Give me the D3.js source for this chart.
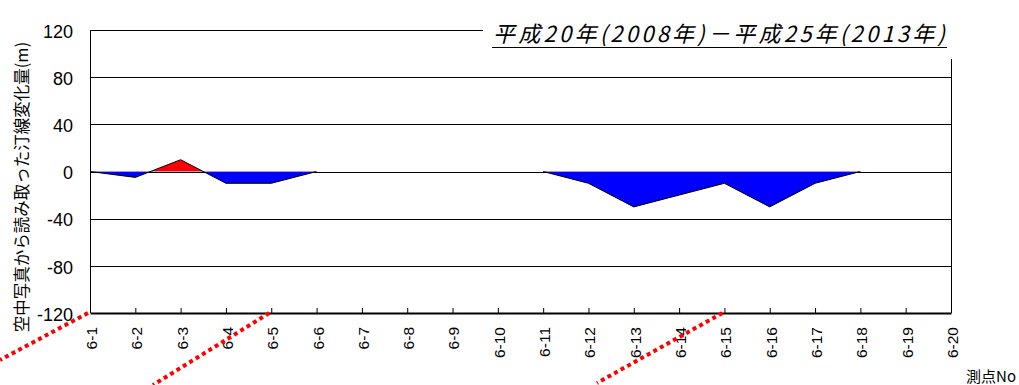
<!DOCTYPE html>
<html><head><meta charset="utf-8">
<script src="https://cdn.jsdelivr.net/npm/d3@7"></script>
<style>html,body{margin:0;padding:0;background:#fff;}svg{display:block;}</style>
</head><body>
<svg id="chart" width="1019" height="385"></svg>
<script>
const categories = ["6-1","6-2","6-3","6-4","6-5","6-6","6-7","6-8","6-9","6-10","6-11","6-12","6-13","6-14","6-15","6-16","6-17","6-18","6-19","6-20"];
const changeValues = [0,-5,10,-10,-10,0,null,null,null,null,0,-10,-30,-20,-10,-30,-10,0,null,null];
const yTicks = [120,80,40,0,-40,-80,-120];
const gridTicks = [80,40,0,-40,-80];
const titleText = "平成20年(2008年)－平成25年(2013年)";
const yLabel = "空中写真から読み取った汀線変化量(m)";
const xLabel = "測点No";

const svg = d3.select("#chart");
const L = 90, R = 951, T = 30, B = 313;
const x = d3.scalePoint().domain(categories).range([L, R]);
const y = d3.scaleLinear().domain([-120, 120]).range([B, T]);

const data = categories.map((c, i) => ({c, v: changeValues[i]}));
const defined = d => d.v !== null;

// gridlines
svg.append("g").selectAll("line").data(gridTicks).join("line")
  .attr("x1", L).attr("x2", R)
  .attr("y1", d => Math.round(y(d)) + 0.5).attr("y2", d => Math.round(y(d)) + 0.5)
  .attr("stroke", "#000").attr("stroke-width", 1);

// clip paths
const defs = svg.append("defs");
defs.append("clipPath").attr("id", "above").append("rect")
  .attr("x", L).attr("y", T).attr("width", R - L).attr("height", y(0) - T);
defs.append("clipPath").attr("id", "below").append("rect")
  .attr("x", L).attr("y", y(0)).attr("width", R - L).attr("height", B - y(0));

const area = d3.area().defined(defined).x(d => x(d.c)).y0(y(0)).y1(d => y(d.v));
svg.append("path").datum(data).attr("d", area).attr("fill", "#ff0000").attr("clip-path", "url(#above)");
svg.append("path").datum(data).attr("d", area).attr("fill", "#0000ff").attr("clip-path", "url(#below)");

const line = d3.line().defined(defined).x(d => x(d.c)).y(d => y(d.v));
svg.append("path").datum(data).attr("d", line).attr("fill", "none").attr("stroke", "#000").attr("stroke-width", 1);

// borders
svg.append("line").attr("x1", L + 0.5).attr("x2", L + 0.5).attr("y1", T).attr("y2", B).attr("stroke", "#000").attr("stroke-width", 1);
svg.append("line").attr("x1", L).attr("x2", 483).attr("y1", T + 0.5).attr("y2", T + 0.5).attr("stroke", "#000").attr("stroke-width", 1);
svg.append("line").attr("x1", R + 0.5).attr("x2", R + 0.5).attr("y1", 59).attr("y2", B).attr("stroke", "#000").attr("stroke-width", 1);

// x axis
const xAxis = d3.axisBottom(x).tickSize(-5).tickSizeOuter(0).tickFormat("");
const gx = svg.append("g").attr("transform", `translate(0,${B})`).call(xAxis);
gx.select(".domain").attr("stroke", "#000").attr("stroke-width", 2);
gx.selectAll(".tick line").attr("stroke", "#000").attr("stroke-width", 1);

svg.append("g").selectAll("text").data(categories).join("text")
  .attr("transform", d => `translate(${x(d) + 1.5},327) rotate(-90)`)
  .attr("text-anchor", "end").attr("dy", "0.35em")
  .attr("font-family", "'Liberation Sans', Arial, sans-serif").attr("font-size", 15.5)
  .attr("fill", "#000").text(d => d);

// y tick labels
svg.append("g").selectAll("text").data(yTicks).join("text")
  .attr("x", 73).attr("y", d => y(d) + 1.5).attr("dy", "0.35em")
  .attr("text-anchor", "end")
  .attr("font-family", "'Liberation Sans', Arial, sans-serif").attr("font-size", 18)
  .attr("fill", "#000").text(d => d);

// y label
svg.append("text").attr("transform", "translate(22,187) rotate(-90)")
  .attr("text-anchor", "middle").attr("dy", "0.35em")
  .attr("font-family", "'Noto Sans CJK JP', sans-serif").attr("font-size", 16.5)
  .attr("fill", "#000").text(yLabel);

// x label
svg.append("text").attr("x", 1016).attr("y", 382).attr("text-anchor", "end")
  .attr("font-family", "'Noto Sans CJK JP', sans-serif").attr("font-size", 15)
  .attr("fill", "#000").text(xLabel);

// title
svg.append("text").attr("x", 493).attr("y", 42)
  .attr("font-family", "'Noto Sans CJK JP', sans-serif").attr("font-size", 22)
  .attr("font-style", "italic").attr("fill", "#000")
  .attr("textLength", 452).attr("lengthAdjust", "spacing")
  .text(titleText);
svg.append("line").attr("x1", 492).attr("x2", 947).attr("y1", 47.5).attr("y2", 47.5).attr("stroke", "#000").attr("stroke-width", 1);

// red dotted connector lines
const connectors = [
  {c: "6-1", x2: 0, y2: 360},
  {c: "6-5", x2: 153, y2: 385},
  {c: "6-15", x2: 597, y2: 383}
];
svg.append("g").selectAll("line").data(connectors).join("line")
  .attr("x1", d => x(d.c) - 2).attr("y1", B)
  .attr("x2", d => d.x2).attr("y2", d => d.y2)
  .attr("stroke", "#ff0000").attr("stroke-width", 4).attr("stroke-dasharray", "4,3.5");
</script>
</body></html>
